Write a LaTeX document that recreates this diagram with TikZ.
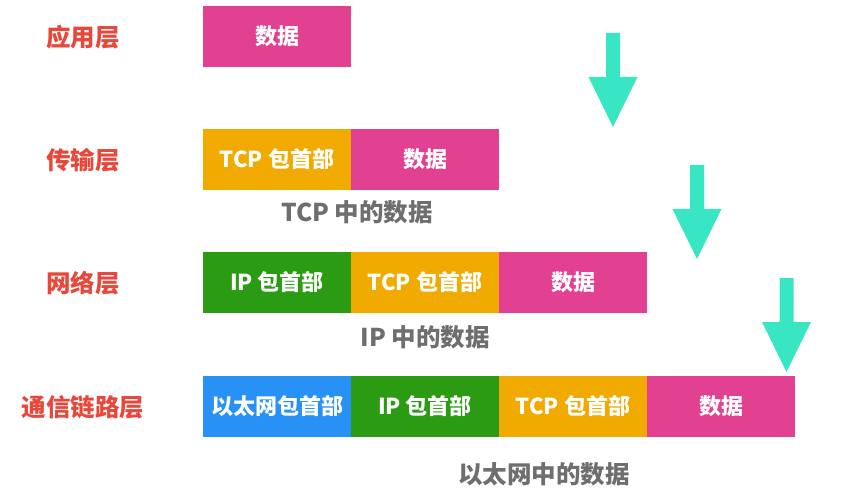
\documentclass[tikz,border=0pt]{standalone}
\usepackage{fontspec}
\setmainfont{Noto Sans CJK SC}
\newfontfamily\cjk{Noto Sans CJK SC}
\definecolor{cpink}{RGB}{226,64,145}
\definecolor{corange}{RGB}{240,170,0}
\definecolor{cgreen}{RGB}{44,155,20}
\definecolor{cblue}{RGB}{40,145,245}
\definecolor{cteal}{RGB}{56,230,195}
\definecolor{cred}{RGB}{232,72,60}
\definecolor{cgray}{RGB}{110,110,110}
\begin{document}
\begin{tikzpicture}[x=1pt,y=-1pt,
  seg/.style={rectangle,minimum width=148pt,minimum height=61pt,inner sep=0pt,text=white,font=\cjk\bfseries\fontsize{22}{24}\selectfont},
  layerlbl/.style={text=cred,font=\cjk\bfseries\fontsize{24.5}{26}\selectfont,inner sep=0pt},
  caption/.style={text=cgray,font=\cjk\bfseries\fontsize{24.5}{26}\selectfont,inner sep=0pt},
  pics/downarrow/.style={code={\fill[cteal] (-7,0) -- (7,0) -- (7,44) -- (24.5,44) -- (0,94) -- (-24.5,44) -- (-7,44) -- cycle;}}]
\useasboundingbox (0,0) rectangle (847,500);
% labels
\node[layerlbl] (l1) at (83,37) {应用层};
\node[layerlbl] (l2) at (83,160) {传输层};
\node[layerlbl] (l3) at (83,283) {网络层};
\node[layerlbl] (l4) at (83,407) {通信链路层};
% row 1
\node[seg,fill=cpink] (a1) at (277,36.5) {数据};
% row 2
\node[seg,fill=corange] (b1) at (277,159.5) {TCP 包首部};
\node[seg,fill=cpink] (b2) at (425,159.5) {数据};
% row 3
\node[seg,fill=cgreen] (c1) at (277,282.5) {IP 包首部};
\node[seg,fill=corange] (c2) at (425,282.5) {TCP 包首部};
\node[seg,fill=cpink] (c3) at (573,282.5) {数据};
% row 4
\node[seg,fill=cblue] (d1) at (277,406.5) {以太网包首部};
\node[seg,fill=cgreen] (d2) at (425,406.5) {IP 包首部};
\node[seg,fill=corange] (d3) at (573,406.5) {TCP 包首部};
\node[seg,fill=cpink] (d4) at (721,406.5) {数据};
% captions
\node[caption] (t1) at (357,212) {TCP 中的数据};
\node[caption] (t2) at (425,337) {IP 中的数据};
\node[caption] (t3) at (544,474) {以太网中的数据};
% arrows
\pic at (613,33) {downarrow};
\pic at (697,165) {downarrow};
\pic at (786.5,278) {downarrow};
\end{tikzpicture}
\end{document}
